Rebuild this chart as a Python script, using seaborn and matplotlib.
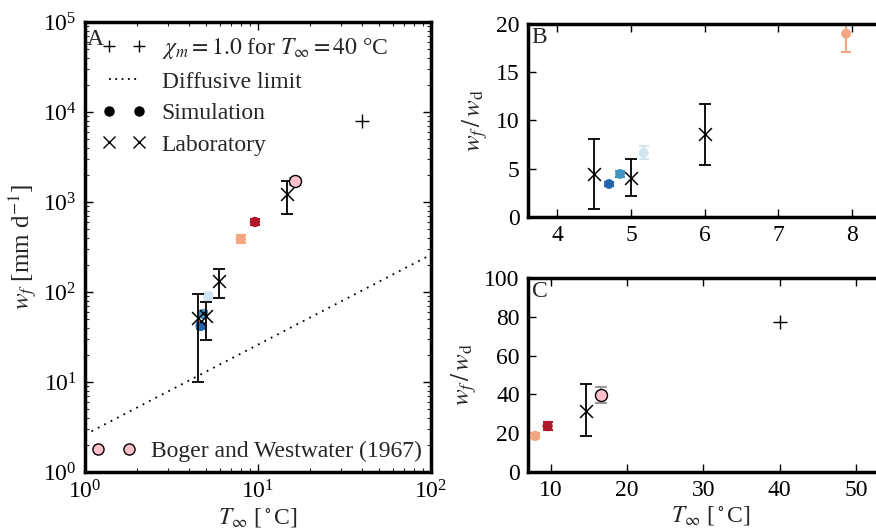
import numpy as np
import pandas as pd
import matplotlib
matplotlib.use("Agg")
import matplotlib.pyplot as plt
import seaborn as sns
from matplotlib.lines import Line2D
from matplotlib.ticker import LogLocator, NullFormatter

# ---------------- data ----------------
sim_names = ["s1", "s2", "s3", "s4", "s5"]
sim_colors = ["#2166ac", "#4393c3", "#d1e5f0", "#f4a582", "#b2182b"]
# Panel A: absolute freezing rate
sim_T = [4.66, 4.83, 5.16, 7.95, 9.6]
sim_w = [42.0, 57.0, 90.0, 388.0, 600.0]
sim_werr = [3.0, 4.0, 8.0, 40.0, 50.0]
lab_T = [4.48, 4.99, 5.98, 14.8]
lab_w = [51.8, 54.5, 133.0, 1228.0]
lab_w_lo = [9.9, 29.3, 85.0, 730.0]
lab_w_hi = [94.0, 78.0, 181.0, 1725.0]
bw_T = [16.4]
bw_w = [1711.0]
bw_err = [150.0]
chi_T = [40.0]
chi_w = [8000.0]
diff_T = [1.0, 100.0]
diff_w = [2.6, 260.0]

# Panel B: ratio, low temperatures
simB_T = [4.70, 4.85, 5.17, 7.92]
simB_r = [3.42, 4.46, 6.66, 19.0]
simB_err = [0.25, 0.3, 0.7, 1.9]
simB_names = ["s1", "s2", "s3", "s4"]
labB_T = [4.5, 5.0, 6.0]
labB_r = [4.46, 4.07, 8.6]
labB_lo = [0.8, 2.18, 5.39]
labB_hi = [8.05, 5.98, 11.7]

# Panel C: ratio, higher temperatures
simC_T = [7.93, 9.57]
simC_r = [18.6, 23.7]
simC_err = [1.3, 2.2]
simC_names = ["s4", "s5"]
labC_T = [14.6]
labC_r = [31.6]
labC_lo = [18.6]
labC_hi = [45.2]
bwC_T = [16.6]
bwC_r = [39.7]
bwC_err = [3.9]
chiC_T = [40.0]
chiC_r = [77.3]

palette = dict(zip(sim_names, sim_colors))

# ---------------- style ----------------
sns.set_theme(style="ticks")
plt.rcParams["font.family"] = ["Liberation Serif", "DejaVu Serif"]
plt.rcParams["mathtext.fontset"] = "stix"
plt.rcParams["axes.linewidth"] = 2.5
FS = 17
LFS = 18

fig = plt.figure(figsize=(8.76, 5.29), dpi=100)
W, H = 876.0, 529.0
def rect(l, r, t, b):
    return [l / W, 1 - b / H, (r - l) / W, (b - t) / H]

axA = fig.add_axes(rect(85, 431, 22, 472))
axB = fig.add_axes(rect(528, 894, 24, 217))
axC = fig.add_axes(rect(528, 894, 278, 472))

def style_ax(ax):
    ax.tick_params(which="major", direction="in", length=6, width=1,
                   top=True, right=True, labelsize=FS, pad=6, colors="black")
    ax.tick_params(which="minor", direction="in", length=3, width=0.8,
                   top=True, right=True)
    for s in ax.spines.values():
        s.set_linewidth(2.5)
        s.set_color("black")
    ax.set_facecolor("white")

def sim_points(ax, T, v, err, names, ms=55):
    for t, y, e, n in zip(T, v, err, names):
        c = palette[n]
        ax.errorbar([t], [y], yerr=[e], fmt="none", ecolor=c, elinewidth=1.5,
                    capsize=3.5, capthick=1.5, zorder=2)
    df = pd.DataFrame({"T": T, "v": v, "run": names})
    sns.scatterplot(data=df, x="T", y="v", hue="run", palette=palette, s=ms,
                    edgecolor="none", legend=False, ax=ax, zorder=3)

def lab_points(ax, T, v, lo, hi):
    v = np.array(v); lo = np.array(lo); hi = np.array(hi)
    ax.errorbar(T, v, yerr=[v - lo, hi - v], fmt="none", ecolor="black",
                elinewidth=1.3, capsize=4, capthick=1.3, zorder=4)
    df = pd.DataFrame({"T": T, "v": v})
    sns.scatterplot(data=df, x="T", y="v", marker="x", s=85, color="black",
                    linewidth=1.1, legend=False, ax=ax, zorder=5)

def bw_points(ax, T, v, err):
    ax.errorbar(T, v, yerr=err, fmt="none", ecolor="0.6", elinewidth=1.5,
                capsize=4, capthick=1.5, zorder=2)
    df = pd.DataFrame({"T": T, "v": v})
    sns.scatterplot(data=df, x="T", y="v", s=75, color="pink",
                    edgecolor="black", linewidth=1, legend=False, ax=ax, zorder=6)

def chi_points(ax, T, v):
    df = pd.DataFrame({"T": T, "v": v})
    sns.scatterplot(data=df, x="T", y="v", marker="+", s=90, color="black",
                    linewidth=1.0, legend=False, ax=ax, zorder=5)

# ---------------- Panel A ----------------
ax = axA
sns.lineplot(x=diff_T, y=diff_w, ax=ax, color="black", linestyle=(0, (1, 3)),
             linewidth=1.3, zorder=1)
sim_points(ax, sim_T, sim_w, sim_werr, sim_names)
lab_points(ax, lab_T, lab_w, lab_w_lo, lab_w_hi)
bw_points(ax, bw_T, bw_w, bw_err)
chi_points(ax, chi_T, chi_w)
ax.set_xscale("log")
ax.set_yscale("log")
ax.set_xlim(1, 100)
ax.set_ylim(1, 1e5)
ax.yaxis.set_major_locator(LogLocator(base=10, numticks=10))
ax.yaxis.set_minor_locator(LogLocator(base=10, subs=np.arange(2, 10), numticks=20))
ax.yaxis.set_minor_formatter(NullFormatter())
ax.xaxis.set_minor_locator(LogLocator(base=10, subs=np.arange(2, 10), numticks=20))
ax.xaxis.set_minor_formatter(NullFormatter())
style_ax(ax)
ax.set_xlabel(r"$T_\infty$ [$^\circ$C]", fontsize=FS, labelpad=2)
ax.set_ylabel(r"$w_f$ [mm d$^{-1}$]", fontsize=LFS, labelpad=2)
ax.text(0.005, 0.985, "A", transform=ax.transAxes, ha="left", va="top", fontsize=FS)

h_chi = Line2D([], [], color="black", marker="+", linestyle="none", markersize=8, markeredgewidth=1.0)
h_diff = Line2D([], [], color="black", linestyle=(0, (1, 2.5)), linewidth=1.3)
h_sim = Line2D([], [], color="black", marker="o", linestyle="none", markersize=6.5)
h_lab = Line2D([], [], color="black", marker="x", linestyle="none", markersize=8, markeredgewidth=1.0)
leg1 = ax.legend([h_chi, h_diff, h_sim, h_lab],
                 [r"$\chi_m = 1.0$ for $T_\infty = 40$ °C", "Diffusive limit",
                  "Simulation", "Laboratory"],
                 loc="upper left", bbox_to_anchor=(0.0, 1.005), frameon=False,
                 numpoints=2, fontsize=FS, handlelength=1.9, handletextpad=0.65,
                 labelspacing=0.42, borderaxespad=0.3)
ax.add_artist(leg1)
h_bw = Line2D([], [], color="pink", marker="o", markeredgecolor="black",
              markeredgewidth=1, linestyle="none", markersize=8)
ax.legend([h_bw], ["Boger and Westwater (1967)"], loc="lower left",
          bbox_to_anchor=(-0.03, -0.015), frameon=False, numpoints=2,
          fontsize=FS, handlelength=1.9, handletextpad=0.65, borderaxespad=0.3)

# ---------------- Panel B ----------------
ax = axB
sim_points(ax, simB_T, simB_r, simB_err, simB_names, ms=50)
lab_points(ax, labB_T, labB_r, labB_lo, labB_hi)
ax.set_xlim(3.6, 8.57)
ax.set_ylim(0, 20)
ax.set_xticks([4, 5, 6, 7, 8])
ax.set_yticks([0, 5, 10, 15, 20])
style_ax(ax)
ax.set_xlabel("")
ax.set_ylabel(r"$w_f\,/\,w_\mathrm{d}$", fontsize=LFS, labelpad=4)
ax.text(0.01, 0.985, "B", transform=ax.transAxes, ha="left", va="top", fontsize=FS)

# ---------------- Panel C ----------------
ax = axC
sim_points(ax, simC_T, simC_r, simC_err, simC_names, ms=55)
lab_points(ax, labC_T, labC_r, labC_lo, labC_hi)
bw_points(ax, bwC_T, bwC_r, bwC_err)
chi_points(ax, chiC_T, chiC_r)
ax.set_xlim(7, 55)
ax.set_ylim(0, 100)
ax.set_xticks([10, 20, 30, 40, 50])
ax.set_yticks([0, 20, 40, 60, 80, 100])
style_ax(ax)
ax.set_xlabel(r"$T_\infty$ [$^\circ$C]", fontsize=FS, labelpad=2)
ax.set_ylabel(r"$w_f\,/\,w_\mathrm{d}$", fontsize=LFS, labelpad=4)
ax.text(0.01, 0.985, "C", transform=ax.transAxes, ha="left", va="top", fontsize=FS)

fig.savefig("out.png", dpi=100, facecolor="white")
